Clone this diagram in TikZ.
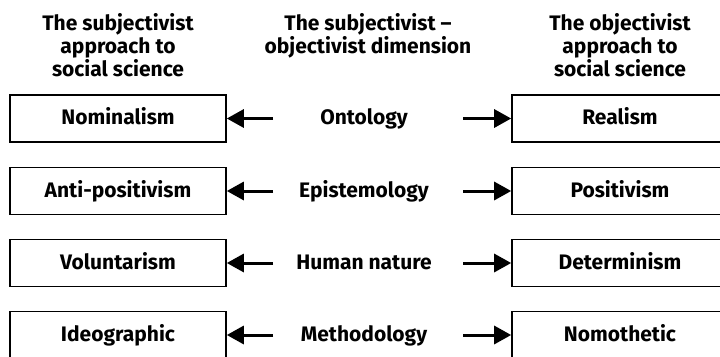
\documentclass[tikz,border=0pt]{standalone}
\usepackage{fontspec}
\setmainfont{Fira Sans}
\usetikzlibrary{arrows.meta}
\tikzset{x=1pt,y=-1pt,
 every node/.style={font=\fontsize{21}{23}\selectfont\bfseries},
 head/.style={align=center,anchor=north,inner sep=0pt},
 dimbox/.style={draw=black,line width=1.6pt,minimum width=216pt,minimum height=47pt,
   inner sep=0pt,text height=12pt,text depth=0pt},
 dimlabel/.style={inner sep=0pt,text height=12pt,text depth=0pt},
 arr/.style={line width=3pt,-{Triangle[length=17pt,width=18pt]}},
 }

\begin{document}
\begin{tikzpicture}
    \useasboundingbox (0,0) rectangle (720,356);
    \clip (0,0) rectangle (720,356);
    % column headings
    \node[head] (hsubj) at (118,13) {The subjectivist\\approach to\\social science};
    \node[head] (hdim) at (368,13) {The subjectivist --\\objectivist dimension};
    \node[head] (hobj) at (620,13) {The objectivist\\approach to\\social science};
    % ontology
    \node[dimbox] (nom) at (118,118.5) {Nominalism};
    \node[dimlabel] (ont) at (364,118.5) {Ontology};
    \node[dimbox] (real) at (620,118.5) {Realism};
    \coordinate (ontl) at (273,118.5);
    \coordinate (ontr) at (463,118.5);
    \draw[arr] (ontl) -- (nom.east);
    \draw[arr] (ontr) -- (real.west);
    % epistemology
    \node[dimbox] (antipos) at (118,191) {Anti-positivism};
    \node[dimlabel] (epi) at (364,191) {Epistemology};
    \node[dimbox] (pos) at (620,191) {Positivism};
    \coordinate (epil) at (273,191);
    \coordinate (epir) at (463,191);
    \draw[arr] (epil) -- (antipos.east);
    \draw[arr] (epir) -- (pos.west);
    % human nature
    \node[dimbox] (vol) at (118,263) {Voluntarism};
    \node[dimlabel] (hum) at (364,263) {Human nature};
    \node[dimbox] (det) at (620,263) {Determinism};
    \coordinate (huml) at (273,263);
    \coordinate (humr) at (463,263);
    \draw[arr] (huml) -- (vol.east);
    \draw[arr] (humr) -- (det.west);
    % methodology
    \node[dimbox] (ideo) at (118,335) {Ideographic};
    \node[dimlabel] (meth) at (364,335) {Methodology};
    \node[dimbox] (nomo) at (620,335) {Nomothetic};
    \coordinate (methl) at (273,335);
    \coordinate (methr) at (463,335);
    \draw[arr] (methl) -- (ideo.east);
    \draw[arr] (methr) -- (nomo.west);
\end{tikzpicture}
\end{document}
